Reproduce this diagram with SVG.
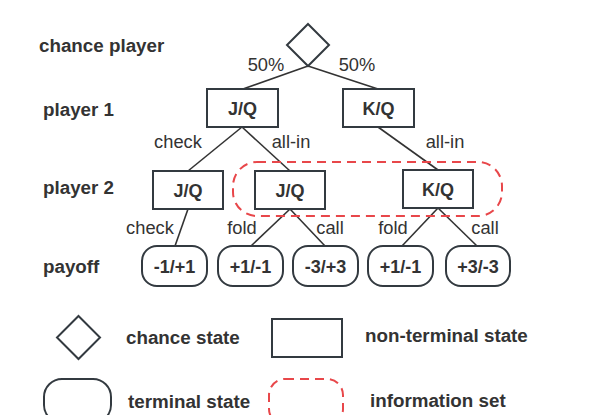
<svg xmlns="http://www.w3.org/2000/svg" width="598" height="415" viewBox="0 0 598 415">
<style>
.lbl{font-family:"Liberation Sans",Arial,sans-serif;font-size:18.8px;font-weight:bold;fill:#333}
.nl{font-family:"Liberation Sans",Arial,sans-serif;font-size:18.3px;fill:#333;text-anchor:middle}
.bl{font-family:"Liberation Sans",Arial,sans-serif;font-size:18px;font-weight:bold;fill:#333;text-anchor:middle}
.shape{fill:#fff;stroke:#333a40;stroke-width:2}
.edge{stroke:#333;stroke-width:1.6;fill:none}
.info{fill:none;stroke:#e8474a;stroke-width:2;stroke-dasharray:9 6}
</style>
<rect width="598" height="415" fill="#fff"/>
<g id="row-labels">
<text class="lbl" x="39" y="52">chance player</text>
<text class="lbl" x="43" y="116">player 1</text>
<text class="lbl" x="43" y="194">player 2</text>
<text class="lbl" x="43" y="273">payoff</text>
</g>
<g id="connectors">
<line class="edge" x1="308" y1="66" x2="243" y2="89"/>
<line class="edge" x1="308" y1="66" x2="378" y2="89"/>
<line class="edge" x1="242" y1="127" x2="188" y2="171"/>
<line class="edge" x1="242" y1="127" x2="290" y2="171"/>
<line class="edge" x1="378" y1="127" x2="438" y2="170"/>
<line class="edge" x1="188" y1="209" x2="175" y2="246"/>
<line class="edge" x1="290" y1="209" x2="251" y2="246"/>
<line class="edge" x1="290" y1="209" x2="325" y2="246"/>
<line class="edge" x1="438" y1="208" x2="402" y2="246"/>
<line class="edge" x1="438" y1="208" x2="477" y2="246"/>
<text class="nl" x="266" y="71">50%</text>
<text class="nl" x="357" y="71">50%</text>
<text class="nl" x="178" y="148">check</text>
<text class="nl" x="291" y="148">all-in</text>
<text class="nl" x="445" y="148">all-in</text>
<text class="nl" x="150" y="234">check</text>
<text class="nl" x="242" y="234">fold</text>
<text class="nl" x="330" y="234">call</text>
<text class="nl" x="393" y="234">fold</text>
<text class="nl" x="485" y="234">call</text>
</g>
<g id="chance">
<polygon class="shape" points="308,24 329,45 308,66 287,45"/>
</g>
<g id="p1-jq">
<rect class="shape" x="207" y="89" width="71" height="38"/>
<text class="bl" x="242.5" y="115">J/Q</text>
</g>
<g id="p1-kq">
<rect class="shape" x="343" y="89" width="71" height="38"/>
<text class="bl" x="378.5" y="115">K/Q</text>
</g>
<g id="p2-jq-check">
<rect class="shape" x="153" y="171" width="70" height="38"/>
<text class="bl" x="188" y="197">J/Q</text>
</g>
<g id="p2-jq-allin">
<rect class="shape" x="255" y="171" width="70" height="38"/>
<text class="bl" x="290" y="197">J/Q</text>
</g>
<g id="p2-kq-allin">
<rect class="shape" x="403" y="170" width="70" height="38"/>
<text class="bl" x="438" y="196">K/Q</text>
</g>
<g id="info-set">
<rect class="info" x="233" y="162" width="269" height="54" rx="24"/>
</g>
<g id="t1">
<rect class="shape" x="142" y="246" width="65" height="40" rx="15"/>
<text class="bl" x="174.5" y="273">-1/+1</text>
</g>
<g id="t2">
<rect class="shape" x="218" y="246" width="65" height="40" rx="15"/>
<text class="bl" x="250.5" y="273">+1/-1</text>
</g>
<g id="t3">
<rect class="shape" x="293" y="246" width="65" height="40" rx="15"/>
<text class="bl" x="325.5" y="273">-3/+3</text>
</g>
<g id="t4">
<rect class="shape" x="368" y="246" width="65" height="40" rx="15"/>
<text class="bl" x="400.5" y="273">+1/-1</text>
</g>
<g id="t5">
<rect class="shape" x="446" y="246" width="64" height="40" rx="15"/>
<text class="bl" x="478" y="273">+3/-3</text>
</g>
<g id="legend">
<polygon class="shape" points="78.5,316 100,337.5 78.5,359 57,337.5"/>
<text class="lbl" x="126" y="344">chance state</text>
<rect class="shape" x="272" y="319" width="70" height="38"/>
<text class="lbl" x="365" y="342">non-terminal state</text>
<rect class="shape" x="44" y="379" width="67" height="44" rx="18"/>
<text class="lbl" x="128" y="408">terminal state</text>
<rect class="info" x="269" y="379" width="74" height="46" rx="16"/>
<text class="lbl" x="370" y="407">information set</text>
</g>
</svg>
